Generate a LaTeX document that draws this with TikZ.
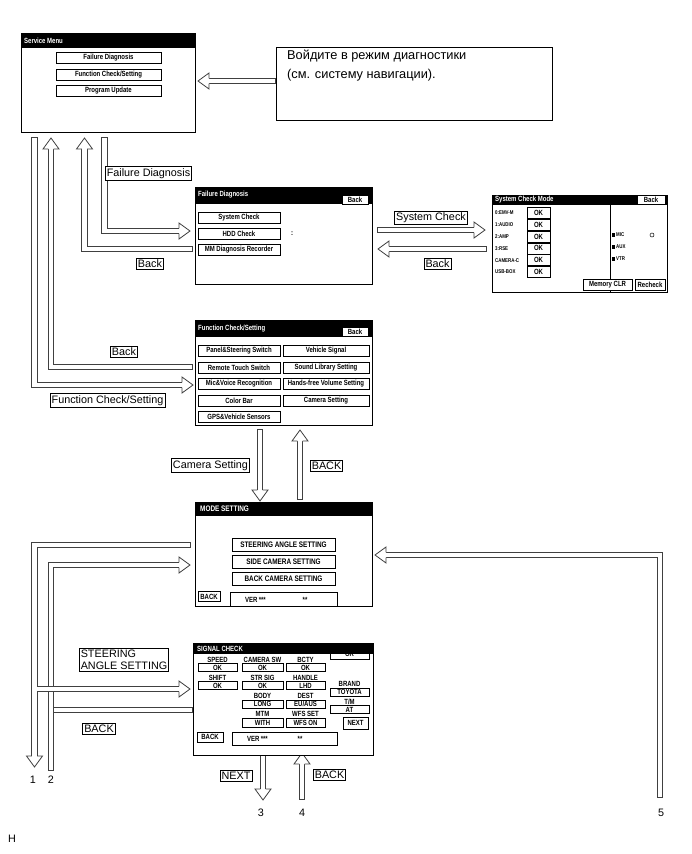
\documentclass[tikz,border=0pt]{standalone}
\usepackage{fontspec}
\setmainfont{Liberation Sans}
\newfontfamily\scrfont[FakeStretch=0.8]{Liberation Sans}
\usetikzlibrary{calc}
\newcommand{\scrtxt}{\scrfont\bfseries\fontsize{7.5}{8}\selectfont}
\newcommand{\smltxt}{\scrfont\bfseries\fontsize{5.5}{6}\selectfont}
\newcommand{\wdtxt}{\scrfont\bfseries\fontsize{8}{9}\selectfont}
\newcommand{\lbltxt}{\fontsize{10.8}{12}\selectfont}
\tikzset{
  screen/.style={draw,line width=1pt,fill=white,anchor=north west,inner sep=0pt,outer sep=0pt},
  hdr/.style={fill=black},
  htitle/.style={anchor=west,text=white,font=\scrtxt,inner sep=0pt},
  wh/.style 2 args={minimum width=#1pt,minimum height=#2pt},
  btn/.style={draw,line width=0.6pt,fill=white,inner sep=0pt,font=\scrtxt},
  hbtn/.style={btn,line width=0.4pt},
  stxt/.style={font=\scrtxt,inner sep=0pt},
  rowtxt/.style={anchor=west,font=\smltxt,inner sep=0pt},
  lbl/.style={draw,line width=0.8pt,fill=white,inner sep=1.6pt,font=\lbltxt},
  tag/.style={font=\lbltxt,inner sep=0pt},
  fat/.style={draw=black!75,line width=0.8pt,double=white,double distance=4.6pt,line cap=rect},
  fatb/.style={fat,line cap=butt},
  fhead/.pic={\filldraw[draw=black!75,fill=white,line width=0.8pt,line cap=butt]
    (-11,-2.7) -- (-11,-8) -- (0,0) -- (-11,8) -- (-11,2.7);},
}

\begin{document}
\begin{tikzpicture}[x=1pt,y=-1pt]
  \useasboundingbox (0,0) rectangle (691,854);
  % hollow arrows, left loop
  \coordinate (fcS) at (34.5,140); \coordinate (fcE) at (193,385);
  \coordinate (fcbS) at (190,367); \coordinate (fcbE) at (51,138);
  \coordinate (fdbS) at (190,249); \coordinate (fdbE) at (84.5,138);
  \coordinate (fdS) at (104.5,140); \coordinate (fdE) at (190,231);
  \draw[fat] (fcS) |- ($(fcE)+(-11,0)$); \pic at (fcE) {fhead};
  \draw[fat] (fcbS) -| ($(fcbE)+(0,11)$); \pic[rotate=90] at (fcbE) {fhead};
  \draw[fat] (fdbS) -| ($(fdbE)+(0,11)$); \pic[rotate=90] at (fdbE) {fhead};
  \draw[fat] (fdS) |- ($(fdE)+(-11,0)$); \pic at (fdE) {fhead};
  % mode setting / signal check loops
  \coordinate (l2S) at (51,768); \coordinate (msE2) at (190,565);
  \coordinate (msS1) at (188,545); \coordinate (l1E) at (34.5,767);
  \coordinate (l1J) at (36.8,689); \coordinate (sgE1) at (190,689);
  \coordinate (sgS2) at (190,710); \coordinate (l2J) at (56.4,710);
  \draw[fat] (l2S) |- ($(msE2)+(-11,0)$); \pic at (msE2) {fhead};
  \draw[fat] (msS1) -| ($(l1E)+(0,-11)$); \pic[rotate=-90] at (l1E) {fhead};
  \draw[fatb] (l1J) -- ($(sgE1)+(-11,0)$); \pic at (sgE1) {fhead};
  \draw[fat] (sgS2) -- (l2J);
  \coordinate (l5S) at (660,795); \coordinate (msE5) at (375,555);
  \draw[fat] (l5S) |- ($(msE5)+(11,0)$); \pic[rotate=180] at (msE5) {fhead};
  % straight arrows
  \coordinate (ruS) at (273,81); \coordinate (svcE) at (198,81);
  \draw[fat] (ruS) -- ($(svcE)+(11,0)$); \pic[rotate=180] at (svcE) {fhead};
  \coordinate (scS) at (380,230); \coordinate (scE) at (485,230);
  \draw[fat] (scS) -- ($(scE)+(-11,0)$); \pic at (scE) {fhead};
  \coordinate (scbS) at (484,249); \coordinate (scbE) at (378,249);
  \draw[fat] (scbS) -- ($(scbE)+(11,0)$); \pic[rotate=180] at (scbE) {fhead};
  \coordinate (camS) at (260,432); \coordinate (camE) at (260,501);
  \draw[fat] (camS) -- ($(camE)+(0,-11)$); \pic[rotate=-90] at (camE) {fhead};
  \coordinate (cambS) at (300,497); \coordinate (cambE) at (300,430);
  \draw[fat] (cambS) -- ($(cambE)+(0,11)$); \pic[rotate=90] at (cambE) {fhead};
  \coordinate (nxS) at (263,756); \coordinate (nxE) at (263,800);
  \draw[fat] (nxS) -- ($(nxE)+(0,-11)$); \pic[rotate=-90] at (nxE) {fhead};
  \coordinate (bkS) at (302,797); \coordinate (bkE) at (302,753);
  \draw[fat] (bkS) -- ($(bkE)+(0,11)$); \pic[rotate=90] at (bkE) {fhead};

  % service menu
  \node[screen,wh={174}{99}] (svc) at (21,33) {};
  \fill[hdr] (svc.north west) rectangle ($(svc.north east)+(0,15)$);
  \node[htitle] (svcT) at (24,40.5) {Service Menu};
  \node[btn,wh={105}{11}] (svcB1) at (108.5,58) {Failure Diagnosis};
  \node[btn,wh={105}{11}] (svcB2) at (108.5,74.5) {Function Check/Setting};
  \node[btn,wh={105}{11}] (svcB3) at (108.5,90.5) {Program Update};
  % note
  \node[screen,line width=0.8pt,wh={276}{73}] (ru) at (276,47) {};
  \node[anchor=north west,align=left,inner sep=0pt,font=\fontsize{12.8}{19}\selectfont] (ruT)
    at (287,50) {Войдите в режим диагностики\\(см. систему навигации).};

  % failure diagnosis
  \node[screen,wh={177}{97}] (fd) at (195,187) {};
  \fill[hdr] (fd.north west) rectangle ($(fd.north east)+(0,17)$);
  \node[htitle] (fdT) at (198,195) {Failure Diagnosis};
  \node[hbtn,wh={26}{9}] (fdBk) at (355,199.5) {Back};
  \node[btn,wh={82}{11}] (fdB1) at (239,217.5) {System Check};
  \node[btn,wh={82}{11}] (fdB2) at (239,233.5) {HDD Check};
  \node[btn,wh={82}{11}] (fdB3) at (239,250) {MM Diagnosis Recorder};
  \node[stxt] (fdC) at (292,233.5) {:};

  % system check mode
  \node[screen,wh={175}{97}] (sc) at (492,195) {};
  \fill[hdr] (sc.north west) rectangle ($(sc.north east)+(0,10)$);
  \node[htitle] (scT) at (495,200) {System Check Mode};
  \node[hbtn,wh={28}{9}] (scBk) at (651,199.5) {Back};
  \node[rowtxt] (scL1) at (495,213) {0:EMV-M};   \node[btn,wh={23}{11}] (scV1) at (538.5,213) {OK};
  \node[rowtxt] (scL2) at (495,224.8) {1:AUDIO}; \node[btn,wh={23}{11}] (scV2) at (538.5,224.8) {OK};
  \node[rowtxt] (scL3) at (495,236.6) {2:AMP};   \node[btn,wh={23}{11}] (scV3) at (538.5,236.6) {OK};
  \node[rowtxt] (scL4) at (495,248.4) {3:RSE};   \node[btn,wh={23}{11}] (scV4) at (538.5,248.4) {OK};
  \node[rowtxt] (scL5) at (495,260.2) {CAMERA-C};\node[btn,wh={23}{11}] (scV5) at (538.5,260.2) {OK};
  \node[rowtxt] (scL6) at (495,272) {USB-BOX};   \node[btn,wh={23}{11}] (scV6) at (538.5,272) {OK};
  \draw[line width=0.6pt] (610,205) -- (610,292);
  \fill (611.5,233.2) rectangle ++(3.5,3.5); \node[rowtxt] (scMic) at (616,235) {MIC};
  \fill (611.5,245.2) rectangle ++(3.5,3.5); \node[rowtxt] (scAux) at (616,247) {AUX};
  \fill (611.5,257.2) rectangle ++(3.5,3.5); \node[rowtxt] (scVtr) at (616,259) {VTR};
  \draw[line width=0.5pt] (652,235) circle (2);
  \node[btn,wh={49}{11}] (scMem) at (607.5,284.5) {Memory CLR};
  \node[btn,wh={30}{11}] (scRe) at (650,284.5) {Recheck};

  % function check / setting
  \node[screen,wh={177}{105}] (fc) at (195,320) {};
  \fill[hdr] (fc.north west) rectangle ($(fc.north east)+(0,17)$);
  \node[htitle] (fcT) at (198,329) {Function Check/Setting};
  \node[hbtn,wh={26}{9}] (fcBk) at (355,332) {Back};
  \node[btn,wh={82}{11}] (fcA1) at (239,351) {Panel\&Steering Switch};
  \node[btn,wh={86}{11}] (fcB1) at (326,351) {Vehicle Signal};
  \node[btn,wh={82}{11}] (fcA2) at (239,367.5) {Remote Touch Switch};
  \node[btn,wh={86}{11}] (fcB2) at (326,367.5) {Sound Library Setting};
  \node[btn,wh={82}{11}] (fcA3) at (239,384) {Mic\&Voice Recognition};
  \node[btn,wh={86}{11}] (fcB3) at (326,384) {Hands-free Volume Setting};
  \node[btn,wh={82}{11}] (fcA4) at (239,400.5) {Color Bar};
  \node[btn,wh={86}{11}] (fcB4) at (326,400.5) {Camera Setting};
  \node[btn,wh={82}{11}] (fcA5) at (239,417) {GPS\&Vehicle Sensors};

  % mode setting
  \node[screen,wh={177}{104}] (ms) at (195,502) {};
  \fill[hdr] (ms.north west) rectangle ($(ms.north east)+(0,14)$);
  \node[htitle,font=\wdtxt] (msT) at (200,509) {MODE SETTING};
  \node[btn,font=\wdtxt,wh={103}{13}] (msB1) at (283.5,544.5) {STEERING ANGLE SETTING};
  \node[btn,font=\wdtxt,wh={103}{13}] (msB2) at (283.5,562) {SIDE CAMERA SETTING};
  \node[btn,font=\wdtxt,wh={103}{13}] (msB3) at (283.5,578.5) {BACK CAMERA SETTING};
  \node[btn,wh={22}{10}] (msBk) at (209,596.5) {BACK};
  \node[btn,wh={107}{14}] (msVer) at (283.5,599) {};
  \node[stxt,anchor=west] (msV1) at (245,599.5) {VER\,***}; \node[stxt] (msV2) at (305,599.5) {**};

  % signal check
  \node[screen,wh={180}{112}] (sg) at (193,643) {};
  \node[btn,wh={39}{11}] (sgTop) at (349.5,653.5) {OK};
  \fill[hdr] (sg.north west) rectangle ($(sg.north east)+(0,11)$);
  \node[htitle] (sgT) at (197,648.5) {SIGNAL CHECK};
  \node[stxt] (sgL1) at (217.5,659.5) {SPEED}; \node[stxt] (sgL2) at (262.5,659.5) {CAMERA SW};
  \node[stxt] (sgL3) at (305.5,659.5) {BCTY};
  \node[btn,wh={39}{7.5}] (sgV1) at (217.5,667.5) {OK}; \node[btn,wh={41}{7.5}] (sgV2) at (262.5,667.5) {OK};
  \node[btn,wh={39}{7.5}] (sgV3) at (305.5,667.5) {OK};
  \node[stxt] (sgL4) at (217.5,677.5) {SHIFT}; \node[stxt] (sgL5) at (262.5,677.5) {STR SIG};
  \node[stxt] (sgL6) at (305.5,677.5) {HANDLE};
  \node[btn,wh={39}{7.5}] (sgV4) at (217.5,685.5) {OK}; \node[btn,wh={41}{7.5}] (sgV5) at (262.5,685.5) {OK};
  \node[btn,wh={39}{7.5}] (sgV6) at (305.5,685.5) {LHD};
  \node[stxt] (sgL7) at (349.5,683.5) {BRAND}; \node[btn,wh={39}{8}] (sgV7) at (349.5,692) {TOYOTA};
  \node[stxt] (sgL8) at (262.5,696) {BODY}; \node[stxt] (sgL9) at (305.5,696) {DEST};
  \node[btn,wh={41}{8}] (sgV8) at (262.5,704) {LONG}; \node[btn,wh={39}{8}] (sgV9) at (305.5,704) {EU/AUS};
  \node[stxt] (sgL10) at (349.5,701.5) {T/M}; \node[btn,wh={39}{7.5}] (sgV10) at (349.5,709.5) {AT};
  \node[stxt] (sgL11) at (262.5,714) {MTM}; \node[stxt] (sgL12) at (305.5,714) {WFS SET};
  \node[btn,wh={41}{9}] (sgV11) at (262.5,722.5) {WITH}; \node[btn,wh={39}{9}] (sgV12) at (305.5,722.5) {WFS ON};
  \node[btn,wh={25}{12}] (sgNx) at (355.5,723) {NEXT};
  \node[btn,wh={26}{10}] (sgBk) at (210,737) {BACK};
  \node[btn,wh={105}{13}] (sgVer) at (284.5,738.5) {};
  \node[stxt,anchor=west] (sgV13) at (247,739) {VER\,***}; \node[stxt] (sgV14) at (300,739) {**};

  % labels
  \node[lbl] (lFD) at (148.5,173.5) {Failure Diagnosis};
  \node[lbl] (lFDb) at (150,264) {Back};
  \node[lbl] (lSC) at (431,218) {System Check};
  \node[lbl] (lSCb) at (437.5,263.5) {Back};
  \node[lbl] (lFCb) at (124,352) {Back};
  \node[lbl] (lFC) at (107.5,400.5) {Function Check/Setting};
  \node[lbl] (lCam) at (210.5,465.5) {Camera Setting};
  \node[lbl] (lCamB) at (326.5,465.5) {BACK};
  \node[lbl,align=left] (lSt) at (124,660) {STEERING\\ANGLE SETTING};
  \node[lbl] (lSgB) at (99,729) {BACK};
  \node[lbl] (lNx) at (236,776) {NEXT};
  \node[lbl] (lBk) at (329.5,775) {BACK};
  \node[tag] (n1) at (33,780) {1}; \node[tag] (n2) at (51,780) {2};
  \node[tag] (n3) at (261,813) {3}; \node[tag] (n4) at (302,813) {4};
  \node[tag] (n5) at (661,813) {5}; \node[tag] (nH) at (12,839) {H};
\end{tikzpicture}
\end{document}
